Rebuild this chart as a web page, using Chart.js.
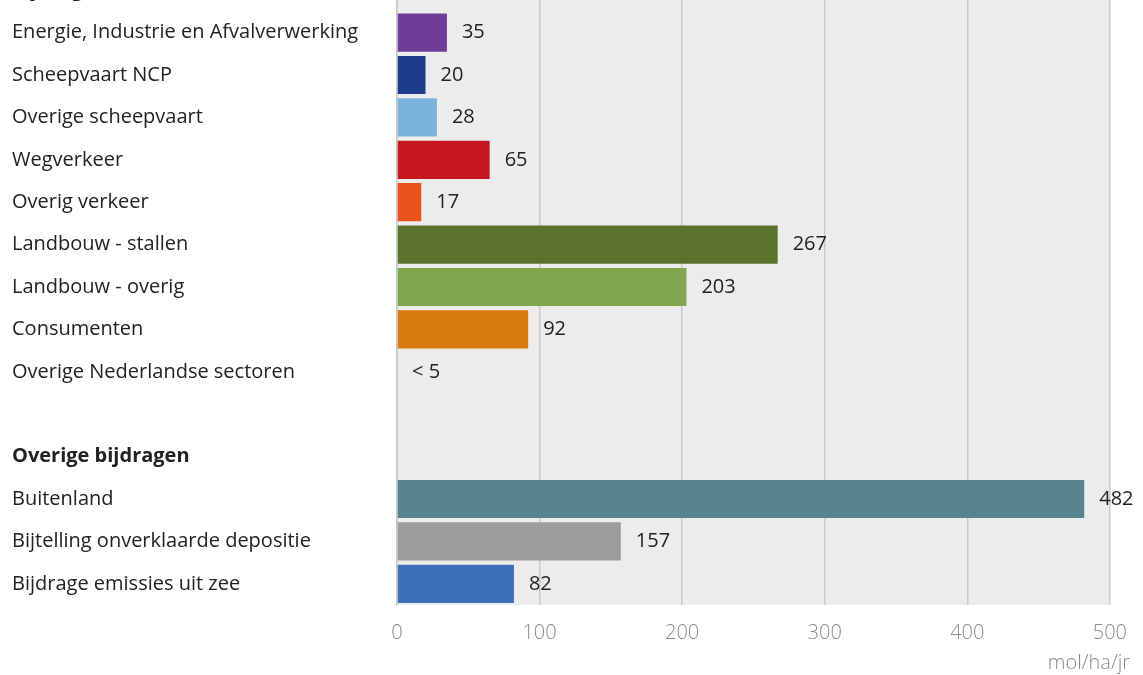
<!DOCTYPE html>
<html>
<head>
<meta charset="utf-8">
<script src="https://cdn.jsdelivr.net/npm/chart.js@4.4.1/dist/chart.umd.min.js"></script>
<style>
  html, body { margin: 0; padding: 0; background: #fff; overflow: hidden; }
  #wrap { position: relative; width: 1143px; height: 675px; overflow: hidden; }
  #mycanvas { position: absolute; left: 0; top: -43px; }
</style>
</head>
<body>
<div id="wrap"><canvas id="mycanvas" width="1143" height="718"></canvas></div>
<script>
// categories (headers have no value)
var categories = [
    "Bijdragen Nederlandse sectoren",
    "Energie, Industrie en Afvalverwerking",
    "Scheepvaart NCP",
    "Overige scheepvaart",
    "Wegverkeer",
    "Overig verkeer",
    "Landbouw - stallen",
    "Landbouw - overig",
    "Consumenten",
    "Overige Nederlandse sectoren",
    "",
    "Overige bijdragen",
    "Buitenland",
    "Bijtelling onverklaarde depositie",
    "Bijdrage emissies uit zee"
];
var headerRows = [0, 11];
var values = [null, 35, 20, 28, 65, 17, 267, 203, 92, 0, null, null, 482, 157, 82];
var valueLabels = ["", "35", "20", "28", "65", "17", "267", "203", "92", "< 5", "", "", "482", "157", "82"];
var barColors = ["#000", "#6f3d97", "#1b3b8b", "#7ab3dd", "#c7171f", "#e9521d", "#5a722b",
                 "#80a74e", "#d97a10", "#999", "#000", "#000", "#56838d", "#9d9d9b", "#3b6fb9"];
var xTicks = [0, 100, 200, 300, 400, 500];
var unitLabel = "mol/ha/jr";

var FONT = "'Open Sans', sans-serif";

var plotBg = {
    id: 'plotBg',
    beforeDraw: function (chart) {
        var a = chart.chartArea, c = chart.ctx;
        c.save();
        c.fillStyle = "#ececec";
        c.fillRect(a.left, a.top, a.right - a.left, a.bottom - a.top);
        c.restore();
    }
};

var valueText = {
    id: 'valueText',
    afterDatasetsDraw: function (chart) {
        var c = chart.ctx;
        var meta = chart.getDatasetMeta(0);
        c.save();
        c.font = "20px " + FONT;
        c.fillStyle = "#222";
        c.textBaseline = "middle";
        c.textAlign = "left";
        meta.data.forEach(function (bar, i) {
            if (!valueLabels[i]) return;
            c.fillText(valueLabels[i], bar.x + 15, bar.y);
        });
        // unit label under the axis
        c.fillStyle = "#8a8a8a";
        c.font = "300 20px " + FONT;
        c.textAlign = "right";
        c.fillText(unitLabel, 1130, 706);
        c.restore();
    }
};

var ctx = document.getElementById("mycanvas");

var chart = new Chart(ctx, {
    type: 'bar',
    data: {
        labels: categories,
        datasets: [{
            data: values,
            backgroundColor: barColors,
            borderWidth: 0,
            barPercentage: 0.9,
            categoryPercentage: 1.0
        }]
    },
    options: {
        indexAxis: 'y',
        responsive: false,
        animation: false,
        devicePixelRatio: 1,
        layout: { padding: { left: 12, right: 32, top: 10, bottom: 0 } },
        plugins: {
            legend: { display: false },
            tooltip: { enabled: false }
        },
        scales: {
            x: {
                min: 0,
                max: 500,
                afterBuildTicks: function (axis) {
                    axis.ticks = xTicks.map(function (v) { return { value: v }; });
                },
                afterFit: function (axis) { axis.height = 70; },
                grid: { color: "#cacaca", lineWidth: 1.5, drawTicks: false },
                border: { display: false },
                ticks: {
                    color: "#8a8a8a",
                    padding: 16,
                    font: { family: FONT, size: 20, weight: 300 }
                }
            },
            y: {
                afterFit: function (axis) { axis.width = 385; },
                grid: { display: false },
                border: { display: true, color: "#cacaca", width: 1.5 },
                ticks: {
                    crossAlign: 'far',
                    autoSkip: false,
                    color: "#222",
                    padding: 0,
                    font: function (context) {
                        var bold = headerRows.indexOf(context.index) >= 0;
                        return { family: FONT, size: 20, weight: bold ? 'bold' : 'normal' };
                    }
                }
            }
        }
    },
    plugins: [plotBg, valueText]
});
</script>
</body>
</html>
